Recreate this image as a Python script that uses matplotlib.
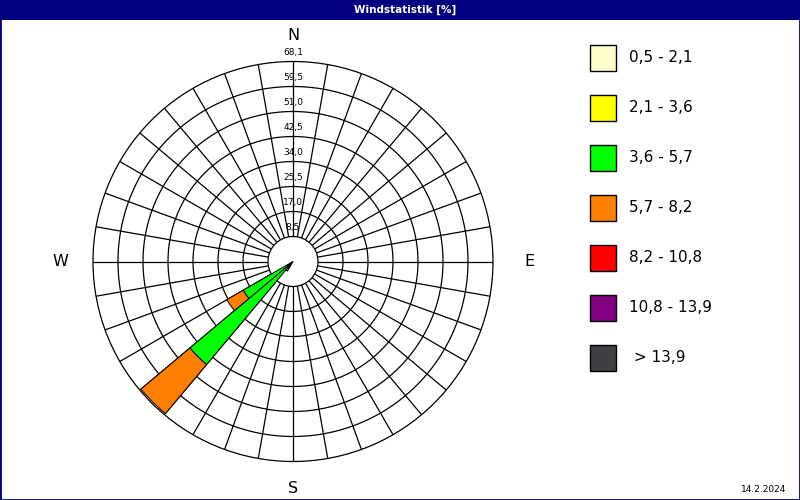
import numpy as np
import matplotlib
matplotlib.use("Agg")
import matplotlib.pyplot as plt
from matplotlib.patches import Rectangle
import matplotlib.transforms as mtransforms

# ---- data ----
directions = [215, 225, 235]            # sector centres in degrees
class_labels = ["0,5 - 2,1", "2,1 - 3,6", "3,6 - 5,7", "5,7 - 8,2",
                "8,2 - 10,8", "10,8 - 13,9", " > 13,9"]
class_colors = ["#FFFFCC", "#FFFF00", "#00FF00", "#FF8000",
                "#FF0000", "#800080", "#404044"]
v_05_21 = [0.0, 0.0, 0.0]
v_21_36 = [0.0, 0.0, 0.0]
v_36_57 = [2.8, 45.8, 19.6]
v_57_82 = [1.0, 21.8, 6.4]
v_82_108 = [0.0, 0.0, 0.0]
v_108_139 = [0.0, 0.0, 0.0]
v_139 = [0.0, 0.0, 0.0]
series = [v_05_21, v_21_36, v_36_57, v_57_82, v_82_108, v_108_139, v_139]
rmax = 68.1
ring_labels = ["8,5", "17,0", "25,5", "34,0", "42,5", "51,0", "59,5", "68,1"]
title = "Windstatistik [%]"
date_text = "14.2.2024"

NAVY = "#000080"
fig = plt.figure(figsize=(8, 5), dpi=100)
fig.patch.set_facecolor("white")

# title bar
fig.patches.append(Rectangle((0, 1 - 20 / 500), 1, 20 / 500, transform=fig.transFigure,
                             facecolor=NAVY, edgecolor="none", zorder=0))
fig.text(405 / 800, 1 - 10 / 500, title, color="white", fontsize=7.5, fontweight="bold",
         ha="center", va="center", family="DejaVu Sans")
fig.patches.append(Rectangle((0, 0), 1, 1, transform=fig.transFigure, fill=False,
                             edgecolor=NAVY, linewidth=2, zorder=10))

# polar axes: centre (293, 261.5) px, radius 200 px
cx, cy, R = 293, 261.5, 200
ax = fig.add_axes([(cx - R) / 800, (500 - cy - R) / 500, 2 * R / 800, 2 * R / 500],
                  projection="polar")
ax.set_theta_zero_location("N")
ax.set_theta_direction(-1)
ax.set_ylim(0, rmax)
ax.grid(False)
ax.set_xticks([])
ax.set_yticks([])
ax.spines["polar"].set_linewidth(0.9)
ax.spines["polar"].set_color("black")

ring_vals = [rmax * k / 8 for k in range(1, 9)]
th = np.linspace(0, 2 * np.pi, 721)
for rv in ring_vals[1:-1]:
    ax.plot(th, np.full_like(th, rv), color="black", lw=0.9, zorder=1)
for d in range(0, 360, 10):
    t = np.deg2rad(d)
    ax.plot([t, t], [ring_vals[0], rmax], color="black", lw=0.9, zorder=1)

# calm circle
ax.fill_between(th, 0, ring_vals[0], facecolor="white", edgecolor="none", zorder=2)
ax.plot(th, np.full_like(th, ring_vals[0]), color="black", lw=0.9, zorder=2)

# ring labels
off = mtransforms.offset_copy(ax.transData, fig=fig, x=0, y=9, units="dots")
for rv, lab in zip(ring_vals, ring_labels):
    ax.text(0, rv, lab, transform=off, ha="center", va="center", fontsize=6.5,
            color="black", zorder=1.5, clip_on=False)

# bars
theta = np.deg2rad(directions)
width = np.deg2rad(10)
bottom = np.zeros(len(directions))
for vals, col in zip(series, class_colors):
    vals = np.array(vals)
    mask = vals > 0
    if mask.any():
        ax.bar(theta[mask], vals[mask], width=width, bottom=bottom[mask], color=col,
               edgecolor="black", linewidth=0.7, zorder=5)
    bottom = bottom + vals

# compass letters
for ang, rr, lab in [(0, 76.8, "N"), (90, 80.5, "E"), (180, 77.2, "S"), (270, 79.3, "W")]:
    ax.text(np.deg2rad(ang), rr, lab, ha="center", va="center", fontsize=11.5,
            clip_on=False)

# legend
for i, (lab, col) in enumerate(zip(class_labels, class_colors)):
    yc = 57.8 + 50 * i
    fig.patches.append(Rectangle((590 / 800, (500 - yc - 13) / 500), 26 / 800, 26 / 500,
                                 transform=fig.transFigure, facecolor=col,
                                 edgecolor="black", linewidth=1.0))
    fig.text(629 / 800, (500 - yc) / 500, lab, fontsize=11, ha="left", va="center")

fig.text(786 / 800, (500 - 489) / 500, date_text, fontsize=6.5, ha="right", va="center")

fig.savefig("out.png", dpi=100, facecolor="white")
